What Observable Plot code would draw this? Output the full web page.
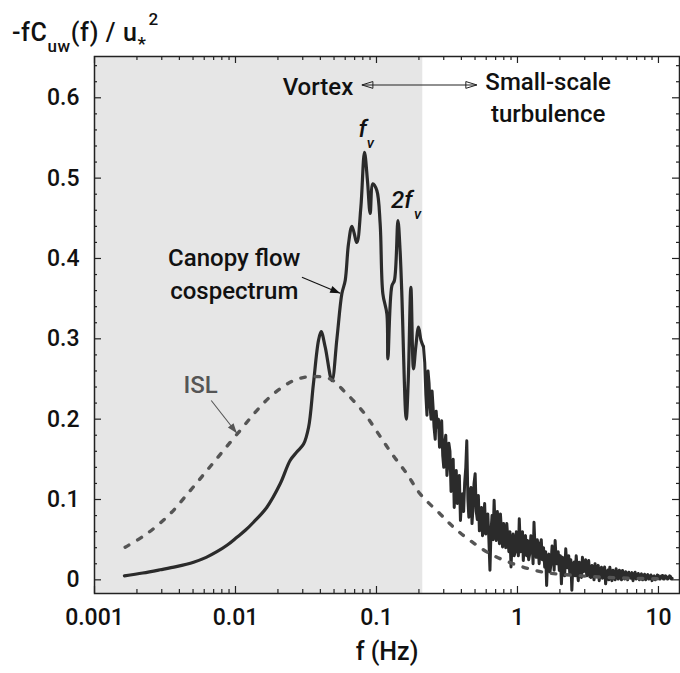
<!DOCTYPE html>
<html><head><meta charset="utf-8">
<script src="https://cdn.jsdelivr.net/npm/d3@7"></script>
<script src="https://cdn.jsdelivr.net/npm/@observablehq/plot@0.6"></script>
<style>body{margin:0;background:#fff}</style>
</head><body><div id="chart"></div>
<script>
// ---- data ----
const canopyFreq = [0.00163,0.0022,0.00292,0.0038,0.00504,0.0062,0.00738,0.0087,0.01023,0.0118,0.01342,0.0167,0.02075,0.0244,0.0272,0.0304,0.033,0.0357,0.0388,0.0405,0.0433,0.0483,0.0524,0.0568,0.06,0.0633,0.067,0.0726,0.0775,0.0822,0.0863,0.0902,0.0942,0.1006,0.1062,0.111,0.1185,0.1205,0.1286,0.134,0.142,0.147,0.151,0.1625,0.168,0.1754,0.183,0.19,0.1987,0.207,0.2155];
const canopyValue = [0.005,0.0085,0.0125,0.0165,0.022,0.028,0.035,0.043,0.053,0.062,0.0717,0.0904,0.1195,0.1485,0.159,0.169,0.19,0.244,0.298,0.309,0.2896,0.248,0.30,0.356,0.3726,0.418,0.44,0.42,0.464,0.532,0.497,0.456,0.493,0.4846,0.443,0.356,0.331,0.275,0.366,0.3726,0.447,0.41,0.36,0.2,0.248,0.364,0.2627,0.29,0.3145,0.298,0.29];
const tailFreq = [0.2155,0.22,0.224,0.228,0.232,0.236,0.24,0.244,0.248,0.252,0.256,0.261,0.265,0.27,0.275,0.28,0.285,0.29,0.295,0.3,0.305,0.31,0.316,0.321,0.326,0.332,0.338,0.344,0.35,0.356,0.362,0.368,0.374,0.381,0.387,0.394,0.401,0.408,0.415,0.422,0.43,0.437,0.445,0.452,0.46,0.468,0.476,0.484,0.492,0.501,0.51,0.519,0.528,0.537,0.546,0.556,0.565,0.575,0.585,0.595,0.605,0.616,0.627,0.638,0.649,0.66,0.671,0.683,0.695,0.707,0.72,0.732,0.745,0.757,0.77,0.784,0.797,0.811,0.825,0.84,0.855,0.869,0.884,0.9,0.915,0.931,0.947,0.964,0.982,1.0,1.015,1.03,1.05,1.07,1.085,1.1,1.12,1.14,1.16,1.18,1.2,1.22,1.245,1.27,1.29,1.31,1.335,1.36,1.38,1.4,1.425,1.45,1.475,1.5,1.53,1.56,1.585,1.61,1.64,1.67,1.7,1.73,1.76,1.79,1.82,1.85,1.88,1.91,1.945,1.98,2.015,2.05,2.085,2.12,2.16,2.2,2.235,2.27,2.31,2.35,2.39,2.43,2.475,2.52,2.565,2.61,2.655,2.7,2.745,2.79,2.84,2.89,2.94,2.99,3.045,3.1,3.15,3.2,3.26,3.32,3.375,3.43,3.49,3.55,3.61,3.68,3.74,3.8,3.87,3.94,4.01,4.08,4.15,4.22,4.295,4.37,4.445,4.52,4.6,4.68,4.76,4.84,4.925,5.01,5.1,5.19,5.28,5.37,5.465,5.56,5.655,5.75,5.85,5.95,6.05,6.16,6.27,6.38,6.49,6.6,6.715,6.83,6.95,7.07,7.195,7.32,7.445,7.57,7.705,7.84,7.975,8.11,8.255,8.4,8.545,8.69,8.845,9.0,9.155,9.31,9.475,9.64,9.82,10.0,10.15,10.3,10.5,10.7,10.85,11.0,11.2,11.4,11.6,11.8,12.0,12.2,12.35,12.5];
const tailValue = [0.29,0.27,0.23,0.205,0.26,0.245,0.215,0.20,0.235,0.215,0.19,0.175,0.21,0.19,0.2,0.165,0.185,0.198,0.155,0.14,0.17,0.18,0.13,0.145,0.17,0.16,0.11,0.125,0.15,0.09,0.12,0.136,0.095,0.10,0.13,0.074,0.1,0.107,0.085,0.12,0.14,0.173,0.1,0.078,0.11,0.115,0.07,0.09,0.12,0.132,0.085,0.075,0.105,0.061,0.08,0.09,0.055,0.07,0.095,0.057,0.07,0.082,0.05,0.012,0.06,0.08,0.05,0.099,0.06,0.049,0.085,0.07,0.045,0.082,0.06,0.041,0.07,0.06,0.04,0.07,0.05,0.035,0.06,0.016,0.045,0.057,0.03,0.035,0.06,0.041,0.03,0.076,0.035,0.04,0.06,0.024,0.05,0.055,0.03,0.049,0.025,0.032,0.055,0.05,0.02,0.0717,0.035,0.028,0.05,0.045,0.02,0.041,0.05,0.025,0.04,0.0157,0.035,-0.007,0.03,0.032,0.01,0.02,0.042,0.038,0.012,0.049,0.025,0.02,0.035,0.0116,0.03,-0.005,0.028,0.025,0.005,0.0386,0.02,0.015,0.03,0.0075,0.025,-0.013,0.02,0.022,0.005,0.03,0.012,-0.001,0.022,0.015,0.003,0.028,0.01,0.0157,0.025,0.005,0.02,0.024,0.004,0.003,0.018,0.012,0.0,0.02,0.01,0.006,0.018,-0.001,0.012,0.0157,0.002,0.008,0.016,-0.005,0.01,0.012,0.0,0.0157,0.006,-0.001,0.012,0.008,0.0,0.0137,0.004,0.001,0.012,0.007,0.0,0.0116,0.004,0.001,0.01,0.006,0.0,0.0095,0.004,0.002,0.009,-0.001,0.006,0.0095,0.001,0.003,0.008,0.0,0.005,0.0075,0.0,0.002,0.007,0.0,0.004,0.0066,0.001,0.002,0.006,-0.001,0.004,0.005,0.0,0.002,0.006,0.0054,0.001,0.001,0.005,0.0054,0.001,0.001,0.005,0.004,0.001,0.002,0.005,0.004,0.001,0.002];
const islFreq = [0.00165,0.00235,0.00344,0.00477,0.00627,0.00822,0.0108,0.0142,0.0186,0.0258,0.0339,0.047,0.06,0.0809,0.1033,0.1286,0.1643,0.204,0.283,0.352,0.462,0.64,0.937,1.53,2.64,5.07,10.8];
const islValue = [0.0406,0.0573,0.0822,0.111,0.136,0.161,0.186,0.211,0.2315,0.248,0.253,0.25,0.2335,0.2086,0.1817,0.1569,0.132,0.107,0.082,0.0655,0.0489,0.0324,0.0199,0.0095,0.0054,0.0025,0.0012];

const vortexBoundary = 0.213;           // Hz, edge of shaded "vortex" band
const xDomain = [0.001, 14.1];
const yDomain = [-0.017, 0.6514];
const xMajorTicks = [0.001, 0.01, 0.1, 1, 10];
const xTickLabels = ["0.001", "0.01", "0.1", "1", "10"];
const xMinorTicks = [0.002,0.003,0.004,0.005,0.006,0.007,0.008,0.009,0.02,0.03,0.04,0.05,0.06,0.07,0.08,0.09,0.2,0.3,0.4,0.5,0.6,0.7,0.8,0.9,2,3,4,5,6,7,8,9];
const yMajorTicks = [0, 0.1, 0.2, 0.3, 0.4, 0.5, 0.6];
const yTickLabels = ["0", "0.1", "0.2", "0.3", "0.4", "0.5", "0.6"];
const yMinorTicks = [0.02,0.04,0.06,0.08,0.12,0.14,0.16,0.18,0.22,0.24,0.26,0.28,0.32,0.34,0.36,0.38,0.42,0.44,0.46,0.48,0.52,0.54,0.56,0.58,0.62,0.64];

const xTitle = "f (Hz)";
const labelsEnd = [
  {f: 0.0684, v: 0.616, text: "Vortex", color: "#111"}
];
const labelsMiddle = [
  {f: 1.65, v: 0.603, text: "Small-scale\nturbulence", color: "#111"},
  {f: 0.0098, v: 0.383, text: "Canopy flow\ncospectrum", color: "#111"},
  {f: 0.00566, v: 0.2456, text: "ISL", color: "#555"}
];
const italicLabels = [
  {f: 0.0798, v: 0.5606, text: "f", size: 24},
  {f: 0.0905, v: 0.543, text: "v", size: 15},
  {f: 0.151, v: 0.472, text: "2f", size: 24},
  {f: 0.196, v: 0.455, text: "v", size: 15}
];
const arrows = [
  {f1: 0.0296, v1: 0.3767, f2: 0.0553, v2: 0.3568, color: "#111", head: "filled"},
  {f1: 0.00673, v1: 0.2232, f2: 0.01023, v2: 0.1825, color: "#555", head: "filled"},
  {f1: 0.0788, v1: 0.616, f2: 0.515, v2: 0.616, color: "#222", head: "double"}
];

// ---- build ----
const W = 680, H = 673, mL = 94, mR = 1, mT = 56, mB = 80;
const frameW = W - mL - mR, frameH = H - mT - mB;
const canopyLow = canopyFreq.map((f, i) => ({f, v: canopyValue[i]}));
const canopyHigh = tailFreq.map((f, i) => ({f, v: tailValue[i]}));
const isl = islFreq.map((f, i) => ({f, v: islValue[i]}));
const shade = [{x1: xDomain[0], x2: vortexBoundary}];

const sx = Plot.scale({x: {type: "log", domain: xDomain, range: [mL, W - mR]}});
const sy = Plot.scale({y: {type: "linear", domain: yDomain, range: [H - mB, mT]}});
const heads = [];
for (const a of arrows) {
  const ang = Math.atan2(sy.apply(a.v2) - sy.apply(a.v1), sx.apply(a.f2) - sx.apply(a.f1)) * 180 / Math.PI;
  heads.push({f: a.f2, v: a.v2, angle: ang, color: a.color, head: a.head});
  if (a.head === "double") heads.push({f: a.f1, v: a.v1, angle: ang + 180, color: a.color, head: a.head});
}
const filledHead = {draw(ctx) { ctx.moveTo(0, 0); ctx.lineTo(-10, -3.6); ctx.lineTo(-10, 3.6); ctx.closePath(); }};
const openHead = {draw(ctx) { ctx.moveTo(0, 0); ctx.lineTo(-11, -3.4); ctx.lineTo(-11, 3.4); ctx.closePath(); }};

const font = "Roboto, 'Liberation Sans', Arial, sans-serif";
const tickStroke = "#222";

const plot = Plot.plot({
  width: W, height: H, marginLeft: mL, marginRight: mR, marginTop: mT, marginBottom: mB,
  x: {type: "log", domain: xDomain},
  y: {domain: yDomain},
  style: {fontFamily: font, fontSize: "23px", fontWeight: 500, color: "#111", background: "#fff"},
  marks: [
    Plot.rect(shade, {x1: "x1", x2: "x2", fill: "#e6e6e6"}),
    // ticks (inward, all four sides)
    Plot.tickX(xMinorTicks, {x: d => d, insetTop: frameH - 4, stroke: tickStroke, strokeWidth: 1.2}),
    Plot.tickX(xMinorTicks, {x: d => d, insetBottom: frameH - 4, stroke: tickStroke, strokeWidth: 1.2}),
    Plot.tickX(xMajorTicks, {x: d => d, insetTop: frameH - 7, stroke: tickStroke, strokeWidth: 1.2}),
    Plot.tickX(xMajorTicks, {x: d => d, insetBottom: frameH - 7, stroke: tickStroke, strokeWidth: 1.2}),
    Plot.tickY(yMinorTicks, {y: d => d, insetRight: frameW - 3, stroke: tickStroke, strokeWidth: 1.2}),
    Plot.tickY(yMinorTicks, {y: d => d, insetLeft: frameW - 3, stroke: tickStroke, strokeWidth: 1.2}),
    Plot.tickY(yMajorTicks, {y: d => d, insetRight: frameW - 7, stroke: tickStroke, strokeWidth: 1.2}),
    Plot.tickY(yMajorTicks, {y: d => d, insetLeft: frameW - 7, stroke: tickStroke, strokeWidth: 1.2}),
    Plot.axisX(xMajorTicks, {tickSize: 0, tickPadding: 15, label: null, fontSize: 23, tickFormat: d => xTickLabels[xMajorTicks.indexOf(d)]}),
    Plot.axisY(yMajorTicks, {tickSize: 0, tickPadding: 15, label: null, fontSize: 23, tickFormat: d => yTickLabels[yMajorTicks.indexOf(d)]}),
    // curves (dashed ISL drawn on top, as in the reference)
    Plot.line(canopyLow, {x: "f", y: "v", stroke: "#2b2b2b", strokeWidth: 3.2, curve: "catmull-rom"}),
    Plot.line(canopyHigh, {x: "f", y: "v", stroke: "#2b2b2b", strokeWidth: 3}),
    Plot.line(isl, {x: "f", y: "v", stroke: "#555", strokeWidth: 3.4, strokeDasharray: "4.5,10", strokeLinecap: "round", curve: "catmull-rom"}),
    // annotations
    Plot.link(arrows, {x1: "f1", y1: "v1", x2: "f2", y2: "v2", stroke: "color", strokeWidth: 1.1}),
    Plot.dot(heads.filter(h => h.head === "filled"), {x: "f", y: "v", symbol: filledHead, r: 5, rotate: "angle", fill: "color", stroke: "none"}),
    Plot.dot(heads.filter(h => h.head === "double"), {x: "f", y: "v", symbol: openHead, r: 5, rotate: "angle", fill: "none", stroke: "color", strokeWidth: 1}),
    Plot.text(labelsEnd, {x: "f", y: "v", text: "text", textAnchor: "end", fill: "color", fontSize: 24, lineHeight: 1.35}),
    Plot.text(labelsMiddle, {x: "f", y: "v", text: "text", textAnchor: "middle", fill: "color", fontSize: 24, lineHeight: 1.35}),
    Plot.text(italicLabels, {x: "f", y: "v", text: "text", fontSize: "size", fontStyle: "italic", fill: "#111"}),
    Plot.text([xTitle], {frameAnchor: "bottom", dy: 66, fontSize: 25, fill: "#111"}),
    Plot.frame({stroke: "#222", strokeWidth: 1.5})
  ]
});

// y-axis title with sub/superscripts
const svg = d3.select(plot);
const t = svg.append("text").attr("x", 12).attr("y", 41).attr("font-size", 25).attr("fill", "#111")
  .attr("text-anchor", "start").attr("font-family", font).attr("font-weight", 500).attr("letter-spacing", 0.6);
t.append("tspan").text("-fC");
t.append("tspan").attr("dy", 11).attr("font-size", 17).text("uw");
t.append("tspan").attr("dy", -11).attr("font-size", 25).text("(f) / u");
t.append("tspan").attr("dy", 9).attr("font-size", 19).text("*");
t.append("tspan").attr("dy", -25).attr("dx", 2).attr("font-size", 17).text("2");

document.getElementById("chart").appendChild(plot);
</script>
</body></html>
